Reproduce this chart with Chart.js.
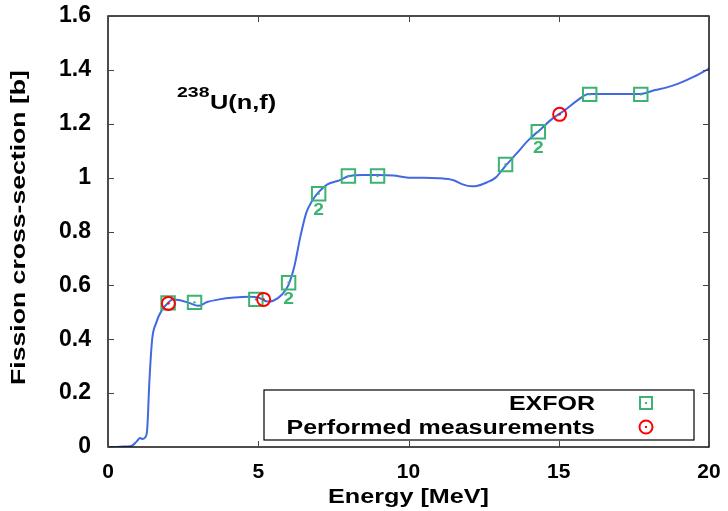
<!DOCTYPE html>
<html>
<head>
<meta charset="utf-8">
<script src="https://cdn.jsdelivr.net/npm/chart.js@4/dist/chart.umd.min.js"></script>
<style>
  html, body { margin: 0; padding: 0; background: #fff; }
  #wrap { width: 728px; height: 511px; }
</style>
</head>
<body>
<div id="wrap"><canvas id="c" width="728" height="511"></canvas></div>
<script>
// evaluated 238U(n,f) curve
const curveE = [0, 0.3, 0.6, 0.8, 0.95, 1.07, 1.15, 1.23, 1.3, 1.38, 1.47, 1.6, 1.8, 2.0, 2.15, 2.4, 2.7, 3.0,
  3.3, 3.7, 4.2, 4.7, 5.0, 5.3, 5.5, 5.8, 6.0, 6.2, 6.4, 6.6, 6.8, 7.0, 7.3, 7.7, 8.0, 8.5, 9.0, 9.5, 10,
  10.5, 11, 11.5, 11.8, 12.1, 12.3, 12.6, 12.9, 13.2, 13.6, 14.0, 14.4, 14.8, 15.2, 15.6, 16.0, 16.5, 17.0,
  17.7, 18.2, 18.6, 19.0, 19.5, 20];
const curveSigma = [0, 0, 0.002, 0.005, 0.02, 0.033, 0.03, 0.035, 0.06, 0.25, 0.40, 0.46, 0.51, 0.535, 0.548,
  0.545, 0.535, 0.524, 0.538, 0.548, 0.555, 0.558, 0.555, 0.54, 0.543, 0.567, 0.6, 0.67, 0.78, 0.87, 0.915,
  0.945, 0.975, 0.99, 1.005, 1.01, 1.01, 1.008, 1.0, 1.0, 0.998, 0.99, 0.975, 0.968, 0.97, 0.982, 1.0, 1.04,
  1.09, 1.14, 1.18, 1.22, 1.25, 1.285, 1.31, 1.31, 1.31, 1.31, 1.325, 1.335, 1.35, 1.375, 1.405];

// EXFOR points (with multiplicity label where >1)
const exforE = [2.0, 2.88, 4.92, 6.01, 7.01, 8.0, 8.97, 13.23, 14.32, 16.03, 17.73];
const exforSigma = [0.535, 0.537, 0.548, 0.61, 0.94, 1.006, 1.006, 1.049, 1.17, 1.309, 1.309];
const exforCount = [1, 1, 1, 2, 2, 1, 1, 1, 2, 1, 1];

// performed measurements
const measE = [2.01, 5.18, 15.03];
const measSigma = [0.533, 0.548, 1.235];

const xTicks = [0, 5, 10, 15, 20];
const yTicks = [0, 0.2, 0.4, 0.6, 0.8, 1, 1.2, 1.4, 1.6];
const yTickLabels = ['0', '0.2', '0.4', '0.6', '0.8', '1', '1.2', '1.4', '1.6'];

const BLUE = '#4169e1', GREEN = '#3cb371', RED = '#ff0000';
const FONT = 'Liberation Sans, Arial, Helvetica, sans-serif';

const pts = (xs, ys) => xs.map((x, i) => ({ x, y: ys[i] }));

// text drawn a bit wider than Liberation, like the original output
function wideText(ctx, text, x, y, sx, align) {
  ctx.save();
  ctx.translate(x, y);
  ctx.scale(sx, 1);
  ctx.textAlign = align;
  ctx.fillText(text, 0, 0);
  ctx.restore();
}

// frame + inward ticks like gnuplot
const framePlugin = {
  id: 'frame',
  afterDraw(chart) {
    const { ctx, chartArea: a, scales } = chart;
    ctx.save();
    ctx.strokeStyle = '#000';
    ctx.lineWidth = 1.4;
    ctx.strokeRect(a.left, a.top, a.right - a.left, a.bottom - a.top);
    ctx.strokeStyle = '#444';
    ctx.lineWidth = 1;
    const L = 6;
    xTicks.forEach(v => {
      const px = Math.round(scales.x.getPixelForValue(v)) + 0.5;
      ctx.beginPath();
      ctx.moveTo(px, a.bottom); ctx.lineTo(px, a.bottom - L);
      ctx.moveTo(px, a.top); ctx.lineTo(px, a.top + L);
      ctx.stroke();
    });
    yTicks.forEach(v => {
      const py = Math.round(scales.y.getPixelForValue(v)) + 0.5;
      ctx.beginPath();
      ctx.moveTo(a.left, py); ctx.lineTo(a.left + L, py);
      ctx.moveTo(a.right, py); ctx.lineTo(a.right - L, py);
      ctx.stroke();
    });

    // axis titles
    ctx.fillStyle = '#000';
    ctx.textBaseline = 'alphabetic';
    ctx.font = 'bold 21px ' + FONT;
    wideText(ctx, 'Energy [MeV]', (a.left + a.right) / 2, 503, 1.2, 'center');
    ctx.save();
    ctx.translate(25, (a.top + a.bottom) / 2 - 4);
    ctx.rotate(-Math.PI / 2);
    ctx.font = 'bold 20px ' + FONT;
    wideText(ctx, 'Fission cross-section [b]', 0, 0, 1.33, 'center');
    ctx.restore();
    ctx.restore();
  }
};

// "2" multiplicity labels, reaction title, legend box
const annotPlugin = {
  id: 'annot',
  afterDatasetsDraw(chart) {
    const { ctx } = chart;
    ctx.save();
    // multiplicity
    const meta = chart.getDatasetMeta(0);
    ctx.fillStyle = GREEN;
    ctx.font = 'bold 16px ' + FONT;
    ctx.textBaseline = 'middle';
    meta.data.forEach((el, i) => {
      if (exforCount[i] > 1) wideText(ctx, String(exforCount[i]), el.x, el.y + 17, 1.2, 'center');
    });

    // reaction label
    ctx.fillStyle = '#000';
    ctx.textBaseline = 'alphabetic';
    ctx.font = 'bold 15px ' + FONT;
    wideText(ctx, '238', 177, 97, 1.3, 'left');
    ctx.font = 'bold 20px ' + FONT;
    wideText(ctx, 'U(n,f)', 210, 109, 1.27, 'left');

    // legend
    const bx = 264, by = 390, bw = 430, bh = 50;
    ctx.fillStyle = '#fff';
    ctx.fillRect(bx, by, bw, bh);
    ctx.strokeStyle = '#000';
    ctx.lineWidth = 1.2;
    ctx.strokeRect(bx, by, bw, bh);
    ctx.fillStyle = '#000';
    ctx.font = 'bold 20px ' + FONT;
    ctx.textBaseline = 'middle';
    const ds = chart.data.datasets;
    wideText(ctx, ds[0].label, 595, 404, 1.25, 'right');
    wideText(ctx, ds[1].label, 595, 428, 1.25, 'right');
    const sx = 646;
    ctx.lineWidth = 2;
    ctx.strokeStyle = GREEN;
    ctx.strokeRect(sx - 6, 403 - 6, 12, 12);
    ctx.fillStyle = GREEN;
    ctx.fillRect(sx - 1, 402, 2, 2);
    ctx.strokeStyle = RED;
    ctx.beginPath(); ctx.arc(sx, 427, 6.5, 0, Math.PI * 2); ctx.stroke();
    ctx.fillStyle = RED;
    ctx.fillRect(sx - 1, 426, 2, 2);
    ctx.restore();
  }
};

new Chart(document.getElementById('c'), {
  type: 'scatter',
  data: {
    datasets: [
      { label: 'EXFOR', data: pts(exforE, exforSigma), pointStyle: 'rect', pointRadius: 9.5,
        borderColor: GREEN, backgroundColor: 'rgba(0,0,0,0)', borderWidth: 2, order: 2 },
      { label: 'Performed measurements', data: pts(measE, measSigma), pointStyle: 'circle', pointRadius: 6.5,
        borderColor: RED, backgroundColor: 'rgba(0,0,0,0)', borderWidth: 2, order: 0 },
      { label: 'dotsG', data: pts(exforE, exforSigma), pointRadius: 1.2, borderWidth: 0,
        backgroundColor: GREEN, order: 1 },
      { label: 'dotsR', data: pts(measE, measSigma), pointRadius: 1.2, borderWidth: 0,
        backgroundColor: RED, order: 0 },
      { label: 'curve', data: pts(curveE, curveSigma), showLine: true, pointRadius: 0,
        borderColor: BLUE, borderWidth: 2, cubicInterpolationMode: 'monotone', order: 5 }
    ]
  },
  options: {
    responsive: false,
    animation: false,
    layout: { padding: { top: 16, right: 19, left: 0, bottom: 0 } },
    plugins: { legend: { display: false }, tooltip: { enabled: false } },
    scales: {
      x: {
        type: 'linear', min: 0, max: 20,
        afterBuildTicks: s => { s.ticks = xTicks.map(v => ({ value: v })); },
        grid: { display: false, drawTicks: false },
        border: { display: false },
        ticks: { color: '#000', padding: 13, font: { family: FONT, size: 21, weight: 'bold' } },
        afterFit: s => { s.height = 64; s.paddingLeft = 0; s.paddingRight = 0; }
      },
      y: {
        type: 'linear', min: 0, max: 1.6,
        afterBuildTicks: s => { s.ticks = yTicks.map(v => ({ value: v })); },
        grid: { display: false, drawTicks: false },
        border: { display: false },
        ticks: { color: '#000', padding: 17, font: { family: FONT, size: 23, weight: 'bold' },
          callback: (v, i) => yTickLabels[i] },
        afterFit: s => { s.width = 108; s.paddingTop = 0; s.paddingBottom = 0; }
      }
    }
  },
  plugins: [framePlugin, annotPlugin]
});
</script>
</body>
</html>
